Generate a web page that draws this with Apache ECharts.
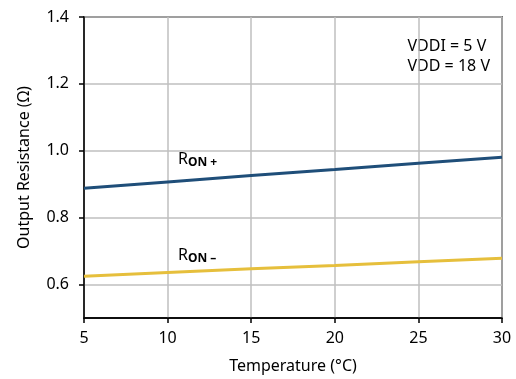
<!DOCTYPE html>
<html>
<head>
<meta charset="utf-8">
<script src="https://cdn.jsdelivr.net/npm/echarts@6/dist/echarts.min.js"></script>
<style>
  html, body { margin: 0; padding: 0; background: #fff; }
  #chart { width: 516px; height: 379px; }
</style>
</head>
<body>
<div id="chart"></div>
<script>
// temperature (°C)
var temps = [5, 10, 15, 20, 25, 30];
// output resistance (ohm)
var ronPlus = [0.888, 0.907, 0.926, 0.944, 0.963, 0.981];
var ronMinus = [0.625, 0.636, 0.647, 0.657, 0.668, 0.679];
var yTicks = [0.6, 0.8, 1.0, 1.2, 1.4];

var FONT = 'Noto Sans';
var chart = echarts.init(document.getElementById('chart'));

function pairs(xs, ys) {
  return xs.map(function (x, i) { return [x, ys[i]]; });
}

var subLabel = {
  r: { fontSize: 16, fontFamily: FONT, fill: '#000' },
  s: { fontSize: 12, fontFamily: FONT, fill: '#000', fontWeight: 'bold', padding: [8, 0, 0, 0] }
};

var option = {
  animation: false,
  textStyle: { fontFamily: FONT },
  grid: {
    left: 84, right: 14, top: 17, bottom: 60,
    show: true, borderColor: '#000', borderWidth: 1.5, backgroundColor: 'transparent'
  },
  xAxis: {
    type: 'value',
    min: 5, max: 30, interval: 5,
    name: 'Temperature (°C)',
    nameLocation: 'middle',
    nameGap: 40,
    nameTextStyle: { fontSize: 16, color: '#000', fontFamily: FONT },
    axisLine: { lineStyle: { color: '#000', width: 1.5 } },
    axisTick: { show: true, length: 5, lineStyle: { color: '#000', width: 1.5 } },
    axisLabel: { fontSize: 16, color: '#000', margin: 12, fontFamily: FONT },
    splitLine: { lineStyle: { color: '#bfbfbf', width: 1.5 } }
  },
  yAxis: {
    type: 'value',
    min: 0.5, max: 1.4,
    name: 'Output Resistance (Ω)',
    nameLocation: 'middle',
    nameGap: 52,
    nameTextStyle: { fontSize: 16, color: '#000', fontFamily: FONT },
    axisLine: { show: true, lineStyle: { color: '#000', width: 1.5 } },
    axisTick: { show: true, length: 5, customValues: yTicks, lineStyle: { color: '#000', width: 1.5 } },
    axisLabel: {
      fontSize: 16, color: '#000', margin: 15, fontFamily: FONT,
      customValues: yTicks,
      formatter: function (v) { return v.toFixed(1); }
    },
    splitLine: { lineStyle: { color: '#bfbfbf', width: 1.5 } }
  },
  graphic: [
    {
      type: 'text', right: 26, top: 36,
      style: { text: 'VDDI = 5 V\nVDD = 18 V', align: 'right', fontSize: 16, lineHeight: 20, fill: '#000', fontFamily: FONT }
    },
    {
      type: 'text', left: 178, top: 151,
      style: { text: '{r|R}{s|ON +}', rich: subLabel }
    },
    {
      type: 'text', left: 178, top: 247,
      style: { text: '{r|R}{s|ON –}', rich: subLabel }
    }
  ],
  series: [
    {
      name: 'RON+',
      type: 'line',
      data: pairs(temps, ronPlus),
      showSymbol: false,
      lineStyle: { color: '#1f4e79', width: 3 },
      z: 5
    },
    {
      name: 'RON-',
      type: 'line',
      data: pairs(temps, ronMinus),
      showSymbol: false,
      lineStyle: { color: '#e6bf3c', width: 3 },
      z: 5
    }
  ]
};

chart.setOption(option);
</script>
</body>
</html>
